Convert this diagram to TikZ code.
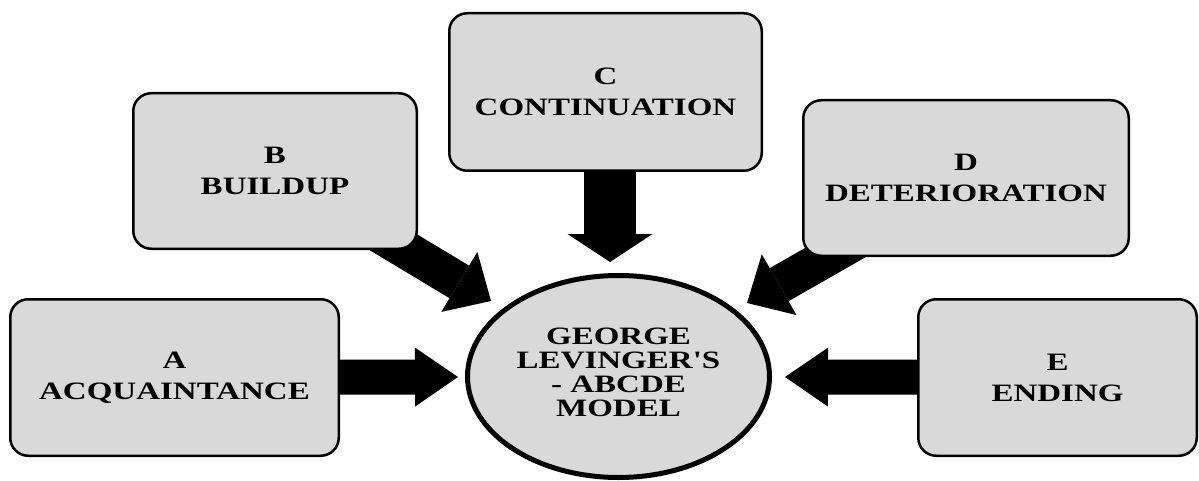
\documentclass[tikz,border=0pt]{standalone}
\usepackage{fontspec}
\setmainfont{Liberation Serif}[FakeStretch=1.32,Ligatures=TeXOff]
\usetikzlibrary{arrows.meta,backgrounds,shapes.geometric}
\definecolor{boxgray}{HTML}{D9D9D9}
\begin{document}
\begin{tikzpicture}[x=1pt,y=-1pt,
  stagebox/.style={draw=black,line width=2.5pt,fill=boxgray,rounded corners=18pt,
    inner sep=0pt,align=center,font=\fontsize{25}{31}\selectfont\bfseries},
  hubnode/.style={draw=black,line width=5pt,fill=boxgray,ellipse,inner sep=0pt},
  hubtext/.style={align=center,font=\fontsize{25}{24}\selectfont\bfseries,inner sep=0pt},
  blkh/.style={line width=35pt,-{Triangle[length=43pt,width=59pt,line width=0pt]}},
  blkv/.style={line width=52pt,-{Triangle[length=28pt,width=85pt,line width=0pt]}},
  blkd/.style={line width=38pt,-{Triangle[length=37pt,width=70pt,line width=0pt]}}]
\useasboundingbox (0,0) rectangle (1199,481);
% nodes
\node[stagebox,minimum width=328.5pt,minimum height=156.5pt] (A) at (174.5,377.5) {A\\ACQUAINTANCE};
\node[stagebox,minimum width=283.5pt,minimum height=155.5pt] (B) at (275,171) {B\\BUILDUP};
\node[stagebox,minimum width=312.5pt,minimum height=157.5pt] (C) at (605.5,92) {C\\CONTINUATION};
\node[stagebox,minimum width=325.5pt,minimum height=155.5pt] (D) at (966,178) {D\\DETERIORATION};
\node[stagebox,minimum width=278.5pt,minimum height=156.5pt] (E) at (1057.5,377.5) {E\\ENDING};
\node[hubnode,minimum width=302pt,minimum height=202pt] (hub) at (618.5,376.5) {};
\node[hubtext] (hubt) at ([yshift=4.5pt]hub.center) {GEORGE\\LEVINGER'S\\- ABCDE\\MODEL};
% arrow tips
\coordinate (tA) at (458,377);
\coordinate (tB) at (491,301);
\coordinate (tC) at (610,262);
\coordinate (tD) at (747,303);
\coordinate (tE) at (785,377);
\begin{scope}[on background layer]
\draw[blkh] (A.center) -- (tA);
\draw[blkh] (E.center) -- (tE);
\draw[blkv] (C.center -| tC) -- (tC);
\draw[blkd] (B.center) -- (tB);
\draw[blkd] (D.center) -- (tD);
\end{scope}
\end{tikzpicture}
\end{document}
